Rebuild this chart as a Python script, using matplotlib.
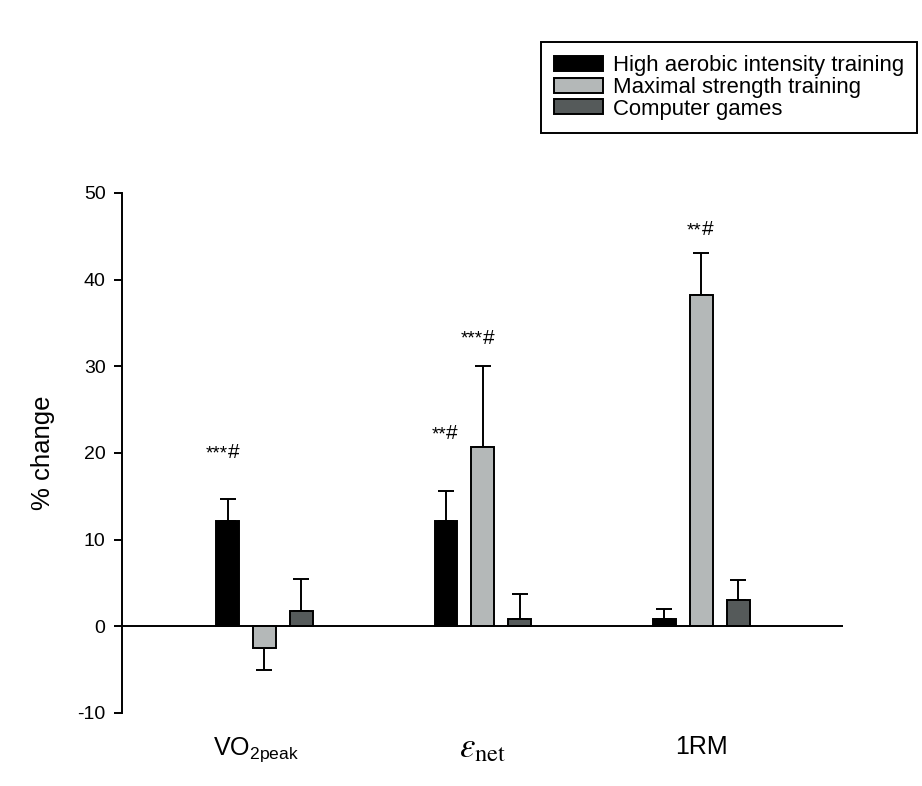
import numpy as np
import matplotlib
matplotlib.use("Agg")
import matplotlib.pyplot as plt
from matplotlib.transforms import ScaledTranslation

plt.rcParams['font.family'] = ['Liberation Sans', 'DejaVu Sans']
plt.rcParams['mathtext.fontset'] = 'custom'
plt.rcParams['mathtext.rm'] = 'Liberation Sans'
plt.rcParams['mathtext.it'] = 'Liberation Sans:italic'
plt.rcParams['axes.unicode_minus'] = False

categories = ['VO$_{\\rm 2peak}$', '$\\varepsilon_{\\rm net}$', '1RM']
series = ['High aerobic intensity training', 'Maximal strength training', 'Computer games']
aerobic = [12.2, 12.2, 0.8]
aerobic_err = [2.5, 3.4, 1.2]
strength = [-2.5, 20.7, 38.2]
strength_err = [2.5, 9.3, 4.9]
games = [1.8, 0.85, 3.0]
games_err = [3.7, 2.9, 2.4]
# (group, series, stars, baseline height)
annotations = [(0, 0, '***', 19.4), (1, 0, '**', 21.6), (1, 1, '***', 32.6), (2, 1, '**', 45.1)]
yticks = [-10, 0, 10, 20, 30, 40, 50]

colors = ['#000000', '#b4b8b8', '#555a5a']

fig = plt.figure(figsize=(9.22, 7.86), dpi=100)
ax = fig.add_axes([0.1323, 0.0929, 0.782, 0.6616])

x = np.arange(len(categories))
width = 0.105
offset = 0.169
vals = [aerobic, strength, games]
errs = [aerobic_err, strength_err, games_err]
for i, (v, e) in enumerate(zip(vals, errs)):
    v = np.array(v); e = np.array(e)
    pos = x + (i - 1) * offset
    ax.bar(pos, v, width, color=colors[i], edgecolor='black', linewidth=1.4,
           label=series[i], zorder=3)
    lower = np.where(v < 0, e, 0)
    upper = np.where(v >= 0, e, 0)
    ax.errorbar(pos, v, yerr=[lower, upper], fmt='none', ecolor='black',
                elinewidth=1.4, capsize=6, capthick=1.4, zorder=2)

for g, s, stars, yv in annotations:
    xp = x[g] + (s - 1) * offset
    ax.text(xp, yv, stars, ha='right', va='baseline', fontsize=13.5)
    ax.text(xp, yv, '#', ha='left', va='baseline', fontsize=15)

ax.axhline(0, color='black', linewidth=1.4, zorder=4)
ax.set_xlim(-0.652, 2.648)
ax.set_ylim(-10, 50)
ax.set_yticks(yticks)
ax.tick_params(axis='y', direction='out', length=5.8, width=1.4, labelsize=14, pad=6)
ax.set_xticks(x)
ax.set_xticklabels(categories)
ax.tick_params(axis='x', length=0, pad=16, labelsize=18)
lbl = ax.get_xticklabels()
lbl[0].set_transform(lbl[0].get_transform() + ScaledTranslation(-8 / 100, 0, fig.dpi_scale_trans))
lbl[1].set_math_fontfamily('stix')
lbl[1].set_fontsize(25)
lbl[1].set_transform(lbl[1].get_transform() + ScaledTranslation(0, 4 / 100, fig.dpi_scale_trans))
for sp in ['top', 'right', 'bottom']:
    ax.spines[sp].set_visible(False)
ax.spines['left'].set_linewidth(1.4)
ax.set_ylabel('% change', fontsize=18.5, labelpad=16)

leg = fig.legend(loc='upper left', bbox_to_anchor=(541/922, 1 - 42/786), fontsize=15.9,
                 frameon=True, fancybox=False, edgecolor='black', framealpha=1,
                 handlelength=2.2, handleheight=0.68, handletextpad=0.45,
                 borderpad=0.6, labelspacing=0.03, borderaxespad=0)
leg.get_frame().set_linewidth(1.4)

fig.savefig('out.png', dpi=100)
